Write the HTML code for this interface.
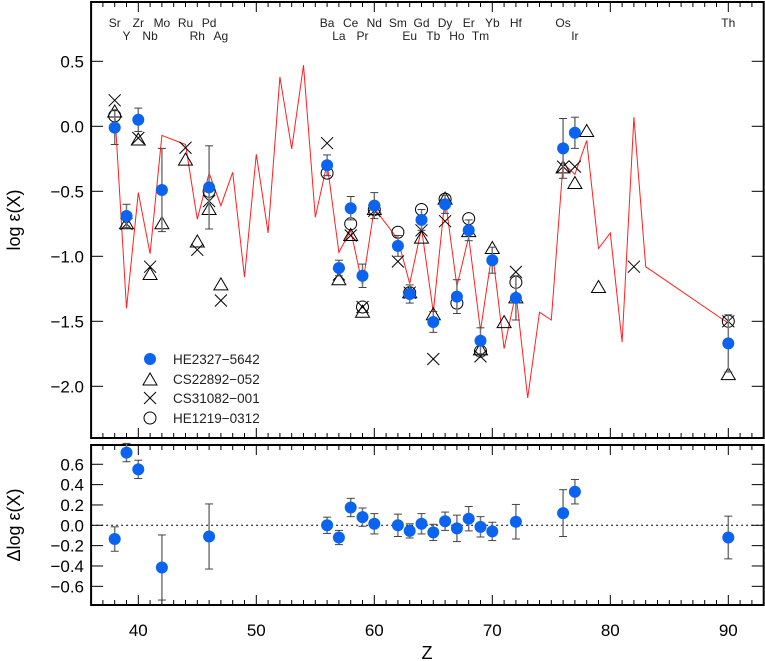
<!DOCTYPE html>
<html><head><meta charset="utf-8"><style>
body{margin:0;background:#fff;}
svg{display:block;font-family:"Liberation Sans",sans-serif;}
</style></head><body>
<svg id="chart" width="765" height="661" viewBox="0 0 765 661" xmlns="http://www.w3.org/2000/svg"></svg>
<script>
// ---- data ----
const solarZ = [38,39,40,41,42,44,45,46,47,48,49,50,51,52,53,54,55,56,57,58,59,60,62,63,64,65,66,67,68,69,70,71,72,73,74,75,76,77,78,79,80,81,82,83,90];
const solarV = [0.126,-1.40,-0.51,-0.98,-0.07,-0.14,-0.715,-0.36,-0.61,-0.354,-1.16,-0.215,-0.82,0.38,-0.174,0.47,-0.70,-0.285,-0.97,-0.80,-1.22,-0.63,-0.87,-1.21,-0.785,-1.43,-0.55,-1.23,-0.85,-1.57,-0.96,-1.71,-1.28,-2.09,-1.43,-1.49,-0.285,-0.37,-0.11,-0.94,-0.82,-1.66,0.07,-1.08,-1.515];
const heZ = [38,39,40,42,46,56,57,58,59,60,62,63,64,65,66,67,68,69,70,72,76,77,90];
const heV = [-0.01,-0.69,0.05,-0.49,-0.47,-0.30,-1.09,-0.63,-1.15,-0.61,-0.92,-1.29,-0.72,-1.505,-0.60,-1.31,-0.80,-1.65,-1.03,-1.32,-0.17,-0.05,-1.67];
const heErr = [0.13,0.09,0.09,0.32,0.32,0.08,0.06,0.09,0.09,0.10,0.08,0.07,0.08,0.08,0.07,0.13,0.08,0.10,0.10,0.17,0.23,0.12,0.22];
const csZ = [38,39,40,41,42,44,45,46,47,57,58,59,60,63,64,65,66,68,69,70,71,72,76,77,78,79,90];
const csV = [0.11,-0.75,-0.105,-1.14,-0.75,-0.26,-0.89,-0.64,-1.22,-1.18,-0.84,-1.43,-0.64,-1.28,-0.86,-1.45,-0.56,-0.81,-1.72,-0.94,-1.51,-1.32,-0.32,-0.44,-0.04,-1.24,-1.91];
const c3Z = [38,39,40,41,44,45,46,47,56,57,58,59,60,62,63,64,65,66,69,72,76,77,82,90];
const c3V = [0.20,-0.75,-0.09,-1.08,-0.165,-0.95,-0.575,-1.34,-0.13,-1.14,-0.84,-1.39,-0.65,-1.04,-1.28,-0.80,-1.79,-0.73,-1.77,-1.12,-0.31,-0.31,-1.08,-1.50];
const h1Z = [38,46,56,58,59,60,62,63,64,66,67,68,69,72,90];
const h1V = [0.08,-0.50,-0.36,-0.75,-1.39,-0.64,-0.815,-1.28,-0.64,-0.56,-1.36,-0.71,-1.73,-1.20,-1.50];
const dZ = [38,39,40,42,46,56,57,58,59,60,62,63,64,65,66,67,68,69,70,72,76,77,90];
const dV = [-0.135,0.715,0.55,-0.415,-0.11,0.0,-0.12,0.175,0.08,0.015,0.0,-0.055,0.015,-0.07,0.04,-0.03,0.065,-0.015,-0.06,0.035,0.12,0.33,-0.12];
const dErr = [0.12,0.09,0.09,0.32,0.32,0.08,0.07,0.09,0.09,0.10,0.11,0.07,0.10,0.08,0.09,0.13,0.12,0.10,0.09,0.17,0.23,0.12,0.21];
const elem1 = ["Sr","Zr","Mo","Ru","Pd","Ba","Ce","Nd","Sm","Gd","Dy","Er","Yb","Hf","Os","Th"];
const elem1Z = [38,40,42,44,46,56,58,60,62,64,66,68,70,72,76,90];
const elem2 = ["Y","Nb","Rh","Ag","La","Pr","Eu","Tb","Ho","Tm","Ir"];
const elem2Z = [39,41,45,47,57,59,63,65,67,69,77];
const topTicks = [0.5,0.0,-0.5,-1.0,-1.5,-2.0];
const topTickLabels = ["0.5","0.0","\u22120.5","\u22121.0","\u22121.5","\u22122.0"];
const botTicks = [0.6,0.4,0.2,0.0,-0.2,-0.4,-0.6];
const botTickLabels = ["0.6","0.4","0.2","0.0","\u22120.2","\u22120.4","\u22120.6"];
const xTicks = [40,50,60,70,80,90];

// ---- axes ----
const X0=91.1, X1=763.7, ZMIN=36, ZMAX=93;
const x = z => X0 + (z-ZMIN)*(X1-X0)/(ZMAX-ZMIN);
const yT = v => 126.3 - 130*v;
const yB = v => 525.3 - 101.7*v;
const T_TOP=2, T_BOT=438, B_TOP=445, B_BOT=605;
const svg = document.getElementById('chart');
const NS="http://www.w3.org/2000/svg";
function mk(tag, attrs, parent){const e=document.createElementNS(NS,tag);for(const k in attrs)e.setAttribute(k,attrs[k]);(parent||svg).appendChild(e);return e;}
function txt(s, attrs, parent){const e=mk('text',attrs,parent);e.textContent=s;return e;}

function frame(top,bot,name){
  const g=mk('g',{});
  
  
  for(let z=37; z<=93; z++){
    const len = (z%10===0)?10:5;
    mk('line',{x1:x(z),x2:x(z),y1:bot,y2:bot-len,stroke:'#000','stroke-width':1},g);
    mk('line',{x1:x(z),x2:x(z),y1:top,y2:top+len,stroke:'#000','stroke-width':1},g);
  }
  mk('rect',{x:X0,y:top,width:X1-X0,height:bot-top,fill:'none',stroke:'#000','stroke-width':2},g);
  return g;
}
const gTop = frame(T_TOP,T_BOT,'top-panel-frame');
for(let v=-2.0; v<=0.51; v+=0.5){
  const y=yT(v);
  mk('line',{x1:X0,x2:X0+12,y1:y,y2:y,stroke:'#000'},gTop);
  mk('line',{x1:X1,x2:X1-12,y1:y,y2:y,stroke:'#000'},gTop);
}
topTicks.forEach((v,i)=>{const t=txt(topTickLabels[i],{x:84,y:yT(v)+6,'text-anchor':'end','font-size':17});

});
const gBot = frame(B_TOP,B_BOT,'bottom-panel-frame');
botTicks.forEach(v=>{
  const y=yB(v);
  mk('line',{x1:X0,x2:X0+12,y1:y,y2:y,stroke:'#000'},gBot);
  mk('line',{x1:X1,x2:X1-12,y1:y,y2:y,stroke:'#000'},gBot);
});
botTicks.forEach((v,i)=>{const t=txt(botTickLabels[i],{x:84,y:yB(v)+6,'text-anchor':'end','font-size':17});

});
xTicks.forEach(z=>{const t=txt(String(z),{x:x(z),y:636,'text-anchor':'middle','font-size':17});

});
let t=txt('Z',{x:427,y:659,'text-anchor':'middle','font-size':18});


t=txt('log \u03b5(X)',{x:0,y:0,transform:'translate(20,220) rotate(-90)','text-anchor':'middle','font-size':18});


t=txt('\u0394log \u03b5(X)',{x:0,y:0,transform:'translate(20,525) rotate(-90)','text-anchor':'middle','font-size':18});



// element labels
elem1.forEach((s,i)=>{const e=txt(s,{x:x(elem1Z[i]),y:27,'text-anchor':'middle','font-size':12,fill:'#222'});

});
elem2.forEach((s,i)=>{const e=txt(s,{x:x(elem2Z[i]),y:40,'text-anchor':'middle','font-size':12,fill:'#222'});

});

// solar r-process line
const pl=mk('polyline',{points:solarZ.map((z,i)=>x(z)+','+yT(solarV[i])).join(' '),fill:'none',stroke:'#ff2020','stroke-width':1});



function tri(cx,cy,name){const s=7;const p=mk('polygon',{points:`${cx},${cy-s} ${cx-s},${cy+5} ${cx+s},${cy+5}`,fill:'none',stroke:'#000','stroke-width':1});

}
function cross(cx,cy,name){const s=6;const g=mk('g',{stroke:'#000','stroke-width':1});


mk('line',{x1:cx-s,y1:cy-s,x2:cx+s,y2:cy+s},g);mk('line',{x1:cx-s,y1:cy+s,x2:cx+s,y2:cy-s},g);}
function circ(cx,cy,name){const c=mk('circle',{cx:cx,cy:cy,r:6,fill:'none',stroke:'#000','stroke-width':1});

}
function errbar(cx,y1,y2){mk('line',{x1:cx,x2:cx,y1:y1,y2:y2,stroke:'#777','stroke-width':1.5});
mk('line',{x1:cx-4,x2:cx+4,y1:y1,y2:y1,stroke:'#444'});mk('line',{x1:cx-4,x2:cx+4,y1:y2,y2:y2,stroke:'#444'});}
function dot(cx,cy,name){const c=mk('circle',{cx:cx,cy:cy,r:6,fill:'#0a64f0'});

}

csZ.forEach((z,i)=>tri(x(z),yT(csV[i]),'cs22892-marker'));
c3Z.forEach((z,i)=>cross(x(z),yT(c3V[i]),'cs31082-marker'));
h1Z.forEach((z,i)=>circ(x(z),yT(h1V[i]),'he1219-marker'));
heZ.forEach((z,i)=>{errbar(x(z),yT(heV[i]+heErr[i]),yT(heV[i]-heErr[i]));dot(x(z),yT(heV[i]),'he2327-point');});

// bottom panel
const zl=mk('line',{x1:X0,x2:X1,y1:yB(0),y2:yB(0),stroke:'#000','stroke-dasharray':'2,3'});


dZ.forEach((z,i)=>{errbar(x(z),yB(dV[i]+dErr[i]),yB(dV[i]-dErr[i]));dot(x(z),yB(dV[i]),'delta-point');});

// legend
const lg=mk('g',{});


const ly=[359,379,398,418];
dot(150,ly[0],'legend-he2327-marker');tri(150,ly[1]+1,'legend-cs22892-marker');cross(150,ly[2],'legend-cs31082-marker');circ(150,ly[3],'legend-he1219-marker');
["HE2327\u22125642","CS22892\u2212052","CS31082\u2212001","HE1219\u22120312"].forEach((s,i)=>{const e=txt(s,{x:173,y:ly[i]+5,'font-size':13.5,fill:'#222'},lg);

});
</script>
</body></html>
